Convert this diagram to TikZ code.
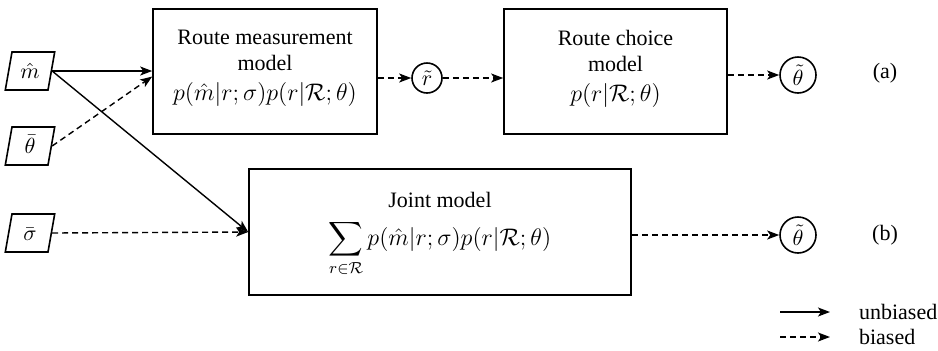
\documentclass[tikz,border=0pt]{standalone}
\usepackage{amsmath,amssymb}
\usepackage{fontspec}
\setmainfont{Liberation Serif}
\usetikzlibrary{shapes.geometric, arrows.meta, positioning}

\newcommand{\eqsize}{\fontsize{12}{14}\selectfont}

\begin{document}
\begin{tikzpicture}[
    x=0.5pt, y=-0.5pt,
    font=\fontsize{11}{13}\selectfont,
    model/.style={rectangle, draw, line width=0.8pt, minimum height=62.5pt},
    txt/.style={align=center, inner sep=0pt, anchor=north},
    obs/.style={trapezium, trapezium left angle=80, trapezium right angle=100, draw, line width=0.8pt, text width=10pt, align=center, text height=8pt, text depth=1pt, inner xsep=4pt, inner ysep=5pt},
    est/.style={circle, draw, line width=0.8pt, inner sep=0pt, minimum size=15pt},
    arrow/.style={-{Stealth[length=6pt, width=4.5pt, inset=1.5pt]}, line width=0.7pt},
    biased/.style={arrow, dash pattern=on 3pt off 2pt}
]
\useasboundingbox (0,0) rectangle (938,350);

% inputs
\node[obs] (mhat) at (30,71) {$\hat{m}$};
\node[obs] (thetabar) at (30,146) {$\bar{\theta}$};
\node[obs] (sigmabar) at (30,233) {$\bar{\sigma}$};

% (a) sequential models
\node[model, minimum width=112pt] (meas) at (265,71.5) {};
\node[txt] (measTxt) at (265,30) {Route measurement\\model\\[2pt] \eqsize$p(\hat{m}|r;\sigma)p(r|\mathcal{R};\theta)$};
\node[est] (rtilde) at (427,78) {$\tilde{r}$};
\node[model, minimum width=111.5pt] (choice) at (615.5,71.5) {};
\node[txt] (choiceTxt) at (615.5,30) {Route choice\\model\\[2pt] \eqsize$p(r|\mathcal{R};\theta)$};
\node[est, minimum size=18pt] (thetaA) at (798,75) {$\tilde{\theta}$};
\node (labA) at (885,73) {(a)};

% (b) joint model
\node[model, minimum width=191pt, minimum height=63pt] (joint) at (440,232) {};
\node[txt] (jointTxt) at (440,192) {Joint model\\[6pt] \eqsize$\displaystyle\sum_{r\in\mathcal{R}} p(\hat{m}|r;\sigma)p(r|\mathcal{R};\theta)$};
\node[est, minimum size=18pt] (thetaB) at (798,235) {$\tilde{\theta}$};
\node (labB) at (885,235) {(b)};

% connectors
\draw[arrow] (mhat.east) -- (meas.west |- mhat.east);
\draw[biased] (thetabar.east) -- ([yshift=-2.5pt]meas.west);
\draw[arrow] (mhat.east) -- (joint.west);
\draw[biased] (sigmabar.east) -- (joint.west);
\draw[biased] (meas.east |- rtilde) -- (rtilde);
\draw[biased] (rtilde) -- (choice.west |- rtilde);
\draw[biased] (choice.east |- thetaA) -- (thetaA);
\draw[biased] (joint.east |- thetaB) -- (thetaB);

% legend
\coordinate (solidS) at (780,312);
\coordinate (solidE) at (830,312);
\coordinate (dashS) at (780,337);
\coordinate (dashE) at (830,337);
\node[anchor=west] (unb) at (852,312) {unbiased};
\node[anchor=west] (bia) at (852,337) {biased};
\draw[arrow] (solidS) -- (solidE);
\draw[biased] (dashS) -- (dashE);
\end{tikzpicture}
\end{document}
